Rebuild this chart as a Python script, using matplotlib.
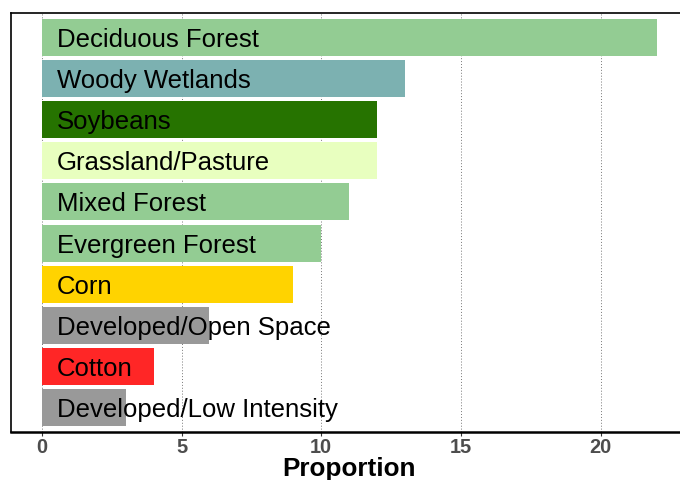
import matplotlib
matplotlib.use("Agg")
import matplotlib.pyplot as plt

categories = ["Deciduous Forest", "Woody Wetlands", "Soybeans", "Grassland/Pasture",
              "Mixed Forest", "Evergreen Forest", "Corn", "Developed/Open Space",
              "Cotton", "Developed/Low Intensity"]
values = [22, 13, 12, 12, 11, 10, 9, 6, 4, 3]
colors = ["#93CC93", "#7CB1B1", "#267300", "#E8FFBF", "#93CC93", "#93CC93",
          "#FFD300", "#999999", "#FF2626", "#999999"]
xticks = [0, 5, 10, 15, 20]

fig = plt.figure(figsize=(6.8, 4.8), dpi=100)
W, H = 680, 480
left, right, top, bottom = 11, 687.5, 13, 432
ax = fig.add_axes([left / W, 1 - bottom / H, (right - left) / W, (bottom - top) / H])

n = len(categories)
ypos = list(range(n, 0, -1))
ax.barh(ypos, values, height=0.9, color=colors, zorder=2)
for y, lab in zip(ypos, categories):
    ax.text(0.54, y, lab, ha="left", va="center_baseline", fontsize=18.5,
            family="Liberation Sans", color="black", zorder=3)

ax.set_xlim(-1.1, 23.1)
ax.set_ylim(0.4, n + 0.6)
ax.set_xticks(xticks)
ax.set_xticklabels([str(t) for t in xticks], fontsize=14.4, fontweight="bold",
                   color="#4D4D4D", family="Liberation Sans")
ax.set_yticks([])
ax.tick_params(axis="x", length=3, width=0.8, color="#333333", pad=1.5)
ax.grid(axis="x", linestyle=(0, (1, 2)), color="#777777", linewidth=0.7, zorder=0)
ax.set_axisbelow(True)
ax.set_xlabel("Proportion", fontsize=18.8, fontweight="bold", family="Liberation Sans",
              labelpad=0)
for s in ["left", "top"]:
    ax.spines[s].set_linewidth(1.2)
ax.spines["bottom"].set_linewidth(1.8)
ax.spines["right"].set_visible(False)

fig.savefig("out.png", dpi=100)
